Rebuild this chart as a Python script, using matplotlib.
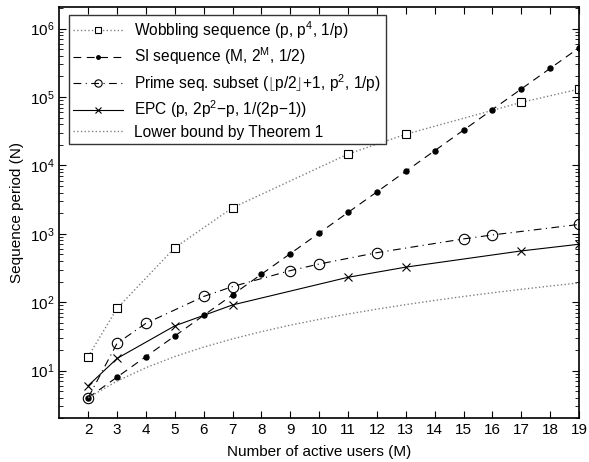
import matplotlib
matplotlib.use("Agg")
import matplotlib.pyplot as plt
from matplotlib.ticker import FixedLocator, NullFormatter

plt.rcParams['font.family'] = ['Liberation Sans', 'DejaVu Sans']
plt.rcParams['mathtext.fontset'] = 'custom'
plt.rcParams['mathtext.rm'] = 'Liberation Sans'
plt.rcParams['mathtext.it'] = 'Liberation Sans:italic'
plt.rcParams['mathtext.bf'] = 'Liberation Sans:bold'

# Data
wob_x = [2, 3, 5, 7, 11, 13, 17, 19]
wob_y = [16, 81, 625, 2401, 14641, 28561, 83521, 130321]

si_x = [2, 3, 4, 5, 6, 7, 8, 9, 10, 11, 12, 13, 14, 15, 16, 17, 18, 19]
si_y = [4, 8, 16, 32, 64, 128, 256, 512, 1024, 2048, 4096, 8192, 16384,
        32768, 65536, 131072, 262144, 524288]

prime_x = [2, 3, 4, 6, 7, 9, 10, 12, 15, 16, 19]
prime_y = [4, 25, 49, 121, 169, 289, 361, 529, 841, 961, 1369]

epc_x = [2, 3, 5, 7, 11, 13, 17, 19]
epc_y = [6, 15, 45, 91, 231, 325, 561, 703]

lb_x = [2, 3, 4, 5, 6, 7, 8, 9, 10, 11, 12, 13, 14, 15, 16, 17, 18, 19]
lb_y = [4, 7, 11, 16, 22, 29, 37, 46, 56, 67, 79, 92, 106, 121, 137, 154, 172, 191]

xticks = list(range(2, 20))
yticks = [1e1, 1e2, 1e3, 1e4, 1e5, 1e6]
ytick_labels = ['$10^{1}$', '$10^{2}$', '$10^{3}$', '$10^{4}$', '$10^{5}$', '$10^{6}$']

fig = plt.figure(figsize=(5.89, 4.62), dpi=100)
ax = fig.add_axes([0.1007, 0.0946, 0.8823, 0.8895])

ax.plot(wob_x, wob_y, linestyle=':', color='#808080', lw=1.0,
        marker='s', markersize=6, markerfacecolor='white',
        markeredgecolor='black', markeredgewidth=0.8,
        label='Wobbling sequence (p, p$^4$, 1/p)')
ax.plot(si_x, si_y, linestyle=(0, (7, 5)), color='black', lw=0.8,
        marker='o', markersize=3.6, markerfacecolor='black',
        markeredgecolor='black',
        label='SI sequence (M, 2$^\\mathrm{M}$, 1/2)')
ax.plot(prime_x, prime_y, linestyle=(0, (7, 4, 1, 4)), color='black', lw=0.8,
        marker='o', markersize=7.5, markerfacecolor='none',
        markeredgecolor='black', markeredgewidth=0.8,
        label='Prime seq. subset ($\\lfloor$p/2$\\rfloor$+1, p$^2$, 1/p)')
ax.plot(epc_x, epc_y, linestyle='-', color='black', lw=0.8,
        marker='x', markersize=5.5, markeredgewidth=0.8,
        label='EPC (p, 2p$^2$\u2212p, 1/(2p\u22121))')
ax.plot(lb_x, lb_y, linestyle=':', color='#808080', lw=1.0,
        label='Lower bound by Theorem 1')

ax.set_yscale('log')
ax.set_xlim(1, 19)
ax.set_ylim(2, 2.05e6)
ax.set_xticks(xticks)
ax.set_xticklabels([str(t) for t in xticks], fontsize=11)
ax.yaxis.set_major_locator(FixedLocator(yticks))
ax.set_yticklabels(ytick_labels)
minor = [m * 10 ** e for e in range(0, 7) for m in range(2, 10)]
minor = [v for v in minor if 2 <= v <= 2.05e6]
ax.yaxis.set_minor_locator(FixedLocator(minor))
ax.yaxis.set_minor_formatter(NullFormatter())
ax.tick_params(axis='both', which='both', direction='in', top=True, right=True)
ax.tick_params(axis='both', which='major', length=5, width=0.8, labelsize=11)
ax.tick_params(axis='y', which='minor', length=3, width=0.6)
for s in ax.spines.values():
    s.set_linewidth(1.2)

ax.set_xlabel('Number of active users (M)', fontsize=11, labelpad=6)
ax.set_ylabel('Sequence period (N)', fontsize=11, labelpad=4)

leg = ax.legend(loc='upper left', bbox_to_anchor=(0.012, 0.99), fontsize=11.2,
                frameon=True, fancybox=False, edgecolor='black',
                borderpad=0.3, labelspacing=0.3, handlelength=3.2,
                handletextpad=0.7, borderaxespad=0.2, markerscale=0.7)
leg.get_frame().set_linewidth(1.0)

fig.savefig('out.png', dpi=100)
